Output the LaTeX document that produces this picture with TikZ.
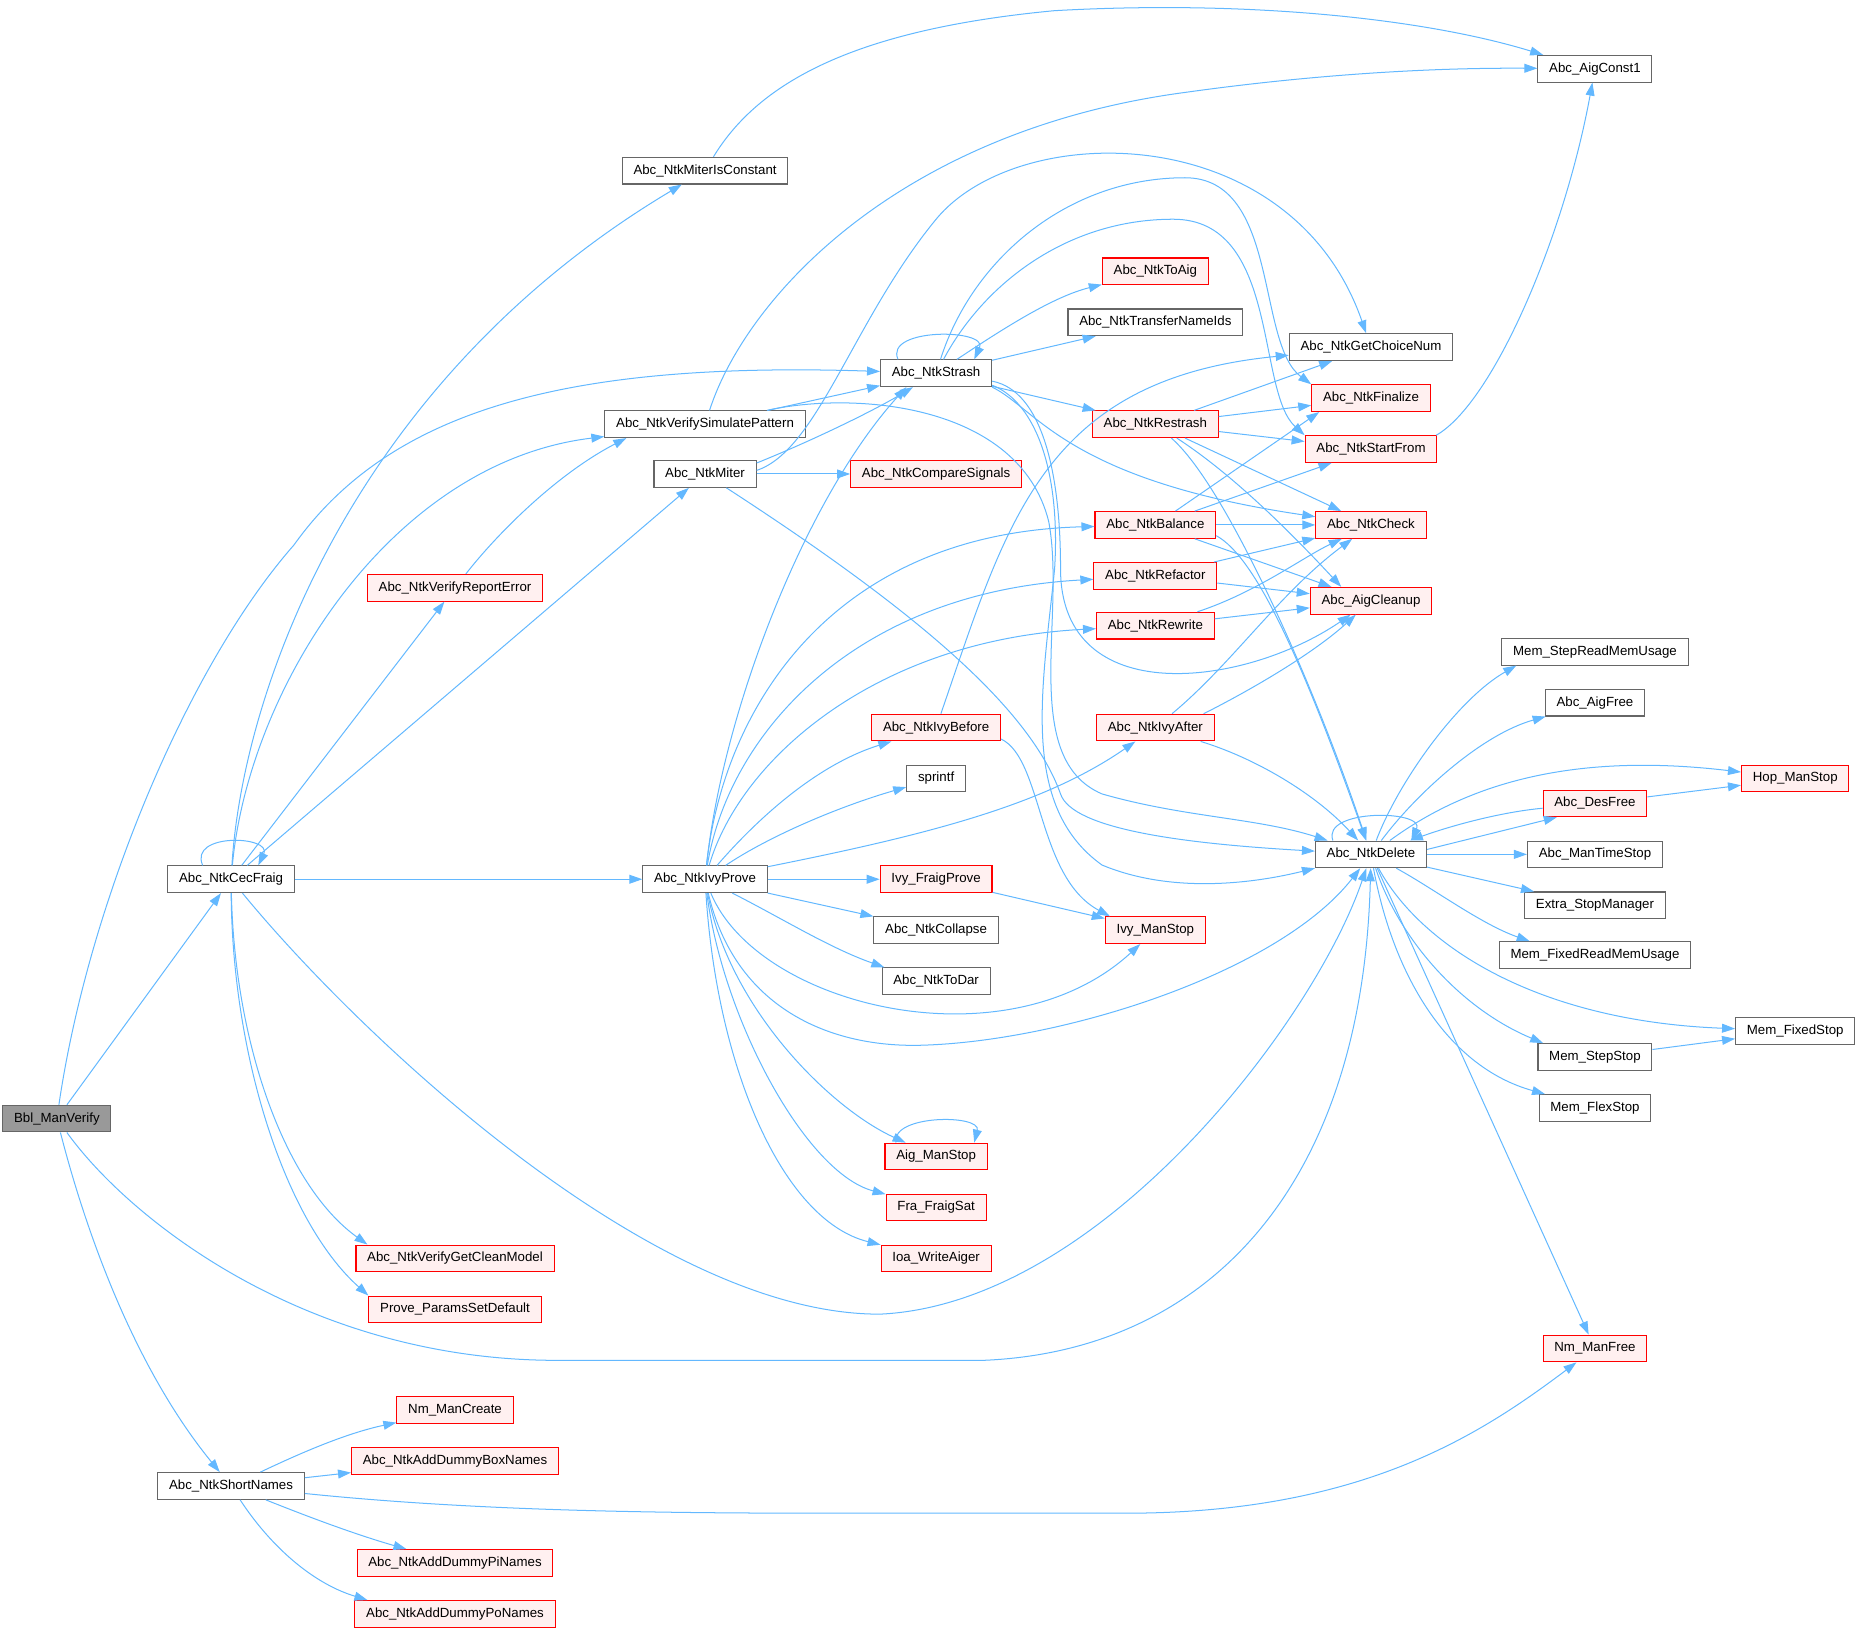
\documentclass[tikz,border=0pt]{standalone}
\usepackage{fontspec}
\setmainfont{Liberation Sans}
\usepackage{tikz}
\usetikzlibrary{arrows.meta}
\definecolor{edgeblue}{HTML}{63B8FF}
\definecolor{boxgray}{HTML}{666666}
\definecolor{rootfill}{HTML}{999999}
\definecolor{redfill}{HTML}{FFF0F0}
\tikzstyle{fn}=[draw=boxgray, fill=white, line width=0.9pt, shape=rectangle, inner xsep=9.5pt, inner ysep=0pt, minimum height=22.5pt, font=\fontsize{11.2pt}{13pt}\selectfont]
\tikzstyle{fnred}=[fn, draw=red, fill=redfill]
\tikzstyle{fnroot}=[fn, fill=rootfill]
\tikzstyle{call}=[draw=edgeblue, line width=0.85pt, ->]
\tikzset{>={Triangle[length=11pt,width=7.5pt]}}

\begin{document}
\begin{tikzpicture}[x=1pt, y=-1pt]
\useasboundingbox (0,0) rectangle (1568,1377);
\node[fnroot] (BM) at (48,944) {Bbl\_ManVerify};
\node[fn] (CF) at (195,742) {Abc\_NtkCecFraig};
\node[fn] (SN) at (195,1254) {Abc\_NtkShortNames};
\node[fn] (MIC) at (595,144) {Abc\_NtkMiterIsConstant};
\node[fn] (VSP) at (595,358) {Abc\_NtkVerifySimulatePattern};
\node[fn] (MIT) at (595,400) {Abc\_NtkMiter};
\node[fnred] (VRE) at (384,496) {Abc\_NtkVerifyReportError};
\node[fnred] (GCM) at (384,1062) {Abc\_NtkVerifyGetCleanModel};
\node[fnred] (PPS) at (384,1105) {Prove\_ParamsSetDefault};
\node[fnred] (NMC) at (384,1190) {Nm\_ManCreate};
\node[fnred] (ABN) at (384,1233) {Abc\_NtkAddDummyBoxNames};
\node[fnred] (API) at (384,1319) {Abc\_NtkAddDummyPiNames};
\node[fnred] (APO) at (384,1362) {Abc\_NtkAddDummyPoNames};
\node[fn] (IVP) at (595,742) {Abc\_NtkIvyProve};
\node[fn] (STR) at (790,315) {Abc\_NtkStrash};
\node[fnred] (CMP) at (790,400) {Abc\_NtkCompareSignals};
\node[fnred] (IVB) at (790,614) {Abc\_NtkIvyBefore};
\node[fn] (SPF) at (790,657) {sprintf};
\node[fnred] (IFP) at (790,742) {Ivy\_FraigProve};
\node[fn] (COL) at (790,785) {Abc\_NtkCollapse};
\node[fn] (TDR) at (790,828) {Abc\_NtkToDar};
\node[fnred] (AMS) at (790,976) {Aig\_ManStop};
\node[fnred] (FFS) at (790,1019) {Fra\_FraigSat};
\node[fnred] (IWA) at (790,1062) {Ioa\_WriteAiger};
\node[fnred] (TAG) at (975,229) {Abc\_NtkToAig};
\node[fn] (TNI) at (975,272) {Abc\_NtkTransferNameIds};
\node[fnred] (RST) at (975,358) {Abc\_NtkRestrash};
\node[fnred] (BAL) at (975,443) {Abc\_NtkBalance};
\node[fnred] (REF) at (975,486) {Abc\_NtkRefactor};
\node[fnred] (REW) at (975,528) {Abc\_NtkRewrite};
\node[fnred] (IVA) at (975,614) {Abc\_NtkIvyAfter};
\node[fnred] (IMS) at (975,785) {Ivy\_ManStop};
\node[fn] (AC1) at (1346,58) {Abc\_AigConst1};
\node[fn] (GCN) at (1157,293) {Abc\_NtkGetChoiceNum};
\node[fnred] (FIN) at (1157,336) {Abc\_NtkFinalize};
\node[fnred] (STF) at (1157,379) {Abc\_NtkStartFrom};
\node[fnred] (CHK) at (1157,443) {Abc\_NtkCheck};
\node[fnred] (ACL) at (1157,507) {Abc\_AigCleanup};
\node[fn] (DEL) at (1157,721) {Abc\_NtkDelete};
\node[fn] (SRM) at (1346,550) {Mem\_StepReadMemUsage};
\node[fn] (AGF) at (1346,593) {Abc\_AigFree};
\node[fnred] (DSF) at (1346,678) {Abc\_DesFree};
\node[fn] (MTS) at (1346,721) {Abc\_ManTimeStop};
\node[fn] (ESM) at (1346,764) {Extra\_StopManager};
\node[fn] (FRM) at (1346,806) {Mem\_FixedReadMemUsage};
\node[fn] (SST) at (1346,892) {Mem\_StepStop};
\node[fn] (FLS) at (1346,935) {Mem\_FlexStop};
\node[fnred] (NMF) at (1346,1138) {Nm\_ManFree};
\node[fnred] (HOP) at (1515,657) {Hop\_ManStop};
\node[fn] (MFS) at (1515,870) {Mem\_FixedStop};

% root
\draw[call] (BM) -- (CF);
\draw[call] (BM) .. controls (75,760) and (160,560) .. (248,460) .. controls (330,345) and (480,305) .. (STR);
\draw[call] (BM) .. controls (110,1030) and (260,1148) .. (470,1148) -- (830,1148) .. controls (1020,1140) and (1150,1000) .. (DEL);
\draw[call] (BM) .. controls (70,1030) and (110,1150) .. (SN);

\draw[call] (CF.154) .. controls +(-12,-28) and +(12,-25) .. (CF.27);
\draw[call] (CF) .. controls (205,580) and (300,320) .. (MIC);
\draw[call] (CF) .. controls (210,580) and (330,390) .. (VSP.187);
\draw[call] (CF) -- (VRE);
\draw[call] (CF) -- (MIT);
\draw[call] (CF) -- (IVP);
\draw[call] (CF) .. controls (300,870) and (550,1110) .. (743,1109) .. controls (930,1100) and (1110,860) .. (DEL);
\draw[call] (CF) .. controls (198,880) and (240,1000) .. (GCM.171);
\draw[call] (CF) .. controls (196,890) and (240,1030) .. (PPS.north west);

\draw[call] (SN) .. controls (250,1228) and (290,1210) .. (NMC);
\draw[call] (SN) -- (ABN);
\draw[call] (SN) .. controls (400,1275) and (550,1277) .. (700,1277) -- (950,1277) .. controls (1150,1277) and (1250,1210) .. (NMF);
\draw[call] (SN) .. controls (260,1280) and (300,1295) .. (API);
\draw[call] (SN) .. controls (225,1300) and (260,1335) .. (APO.171);

\draw[call] (MIC) .. controls (640,70) and (720,25) .. (890,9) .. controls (1050,0) and (1200,15) .. (AC1.165);
\draw[call] (VRE) .. controls (420,450) and (470,400) .. (VSP.190);
\draw[call] (VSP) .. controls (630,250) and (760,110) .. (1000,78) .. controls (1100,64) and (1200,57) .. (AC1);
\draw[call] (VSP) -- (STR);
\draw[call] (VSP) .. controls (720,330) and (860,340) .. (885,440) .. controls (900,520) and (860,640) .. (930,670) .. controls (1000,690) and (1060,690) .. (DEL);

\draw[call] (MIT.12) .. controls (690,370) and (740,345) .. (STR);
\draw[call] (MIT) -- (CMP);
\draw[call] (MIT.4) .. controls (690,380) and (720,270) .. (790,185) .. controls (860,100) and (1090,100) .. (GCN);
\draw[call] (MIT) .. controls (780,520) and (870,600) .. (895,670) .. controls (905,700) and (1000,712) .. (DEL);

% Abc_NtkIvyProve
\draw[call] (IVP) .. controls (610,600) and (680,420) .. (STR.-155);
\draw[call] (IVP) .. controls (610,600) and (700,450) .. (BAL);
\draw[call] (IVP) .. controls (615,620) and (720,500) .. (REF);
\draw[call] (IVP) .. controls (625,640) and (740,540) .. (REW);
\draw[call] (IVP) .. controls (640,690) and (690,645) .. (IVB);
\draw[call] (IVP) .. controls (650,705) and (710,680) .. (SPF);
\draw[call] (IVP) .. controls (780,705) and (880,680) .. (IVA);
\draw[call] (IVP) -- (IFP);
\draw[call] (IVP) -- (COL);
\draw[call] (IVP) .. controls (660,775) and (700,800) .. (TDR.165);
\draw[call] (IVP) .. controls (640,850) and (850,900) .. (IMS);
\draw[call] (IVP) .. controls (620,850) and (700,885) .. (780,882) .. controls (900,878) and (1080,820) .. (DEL);
\draw[call] (IVP) .. controls (615,850) and (700,935) .. (AMS);
\draw[call] (IVP) .. controls (610,860) and (680,990) .. (FFS);
\draw[call] (IVP) .. controls (605,900) and (660,1030) .. (IWA);
\draw[call] (AMS.161) .. controls +(-4,-24) and +(6,-24) .. (AMS.20);

\draw[call] (IVB) .. controls (850,440) and (880,320) .. (GCN);
\draw[call] (IVB.-10) .. controls (880,640) and (875,740) .. (IMS.163);
\draw[call] (IFP) -- (IMS);

% Abc_NtkStrash
\draw[call] (STR.160) .. controls +(-12,-27) and +(12,-26) .. (STR.20);
\draw[call] (STR) .. controls (850,275) and (890,250) .. (TAG);
\draw[call] (STR) -- (TNI);
\draw[call] (STR) -- (RST);
\draw[call] (STR) .. controls (820,220) and (900,150) .. (1000,150) .. controls (1080,150) and (1060,290) .. (FIN.north west);
\draw[call] (STR) .. controls (830,240) and (900,185) .. (990,185) .. controls (1080,185) and (1060,330) .. (STF.north west);
\draw[call] (STR.south east) .. controls (875,345) and (900,405) .. (CHK);
\draw[call] (STR.-8) .. controls (880,330) and (895,400) .. (895,480) .. controls (895,600) and (1050,580) .. (ACL);
\draw[call] (STR.-12) .. controls (875,340) and (895,400) .. (890,480) .. controls (880,580) and (860,680) .. (930,730) .. controls (990,755) and (1060,745) .. (DEL.south west);

\draw[call] (RST) -- (GCN);
\draw[call] (RST) -- (FIN);
\draw[call] (RST) -- (STF);
\draw[call] (RST) -- (CHK);
\draw[call] (RST) .. controls (1040,400) and (1090,450) .. (ACL.155);
\draw[call] (RST) .. controls (1035,410) and (1110,580) .. (DEL);

\draw[call] (BAL) -- (FIN.195);
\draw[call] (BAL) -- (STF);
\draw[call] (BAL) -- (CHK);
\draw[call] (BAL) -- (ACL);
\draw[call] (BAL.-10) .. controls (1060,470) and (1100,560) .. (DEL);

\draw[call] (REF) -- (CHK);
\draw[call] (REF) -- (ACL);
\draw[call] (REW) .. controls (1060,500) and (1100,470) .. (CHK);
\draw[call] (REW) -- (ACL);
\draw[call] (IVA) .. controls (1040,560) and (1080,500) .. (CHK);
\draw[call] (IVA.16) .. controls (1060,580) and (1110,550) .. (ACL);
\draw[call] (IVA) .. controls (1060,640) and (1110,670) .. (DEL);

\draw[call] (STF.12) .. controls (1260,340) and (1320,200) .. (AC1);

% Abc_NtkDelete
\draw[call] (DEL.160) .. controls +(-10,-27) and +(12,-26) .. (DEL.19);
\draw[call] (DEL) .. controls (1180,660) and (1230,590) .. (SRM.190);
\draw[call] (DEL) .. controls (1195,670) and (1250,620) .. (AGF);
\draw[call] (DEL) .. controls (1240,660) and (1330,635) .. (HOP);
\draw[call] (DEL.5) -- (DSF.200);
\draw[call] (DSF) .. controls (1270,685) and (1230,695) .. (DEL);
\draw[call] (DSF) -- (HOP);
\draw[call] (DEL) -- (MTS);
\draw[call] (DEL) -- (ESM);
\draw[call] (DEL) .. controls (1210,750) and (1250,780) .. (FRM.168);
\draw[call] (DEL) .. controls (1200,800) and (1300,862) .. (MFS);
\draw[call] (DEL) .. controls (1180,790) and (1230,850) .. (SST.165);
\draw[call] (DEL) .. controls (1175,820) and (1220,900) .. (FLS);
\draw[call] (DEL) -- (NMF);
\draw[call] (SST) -- (MFS);
\end{tikzpicture}
\end{document}
